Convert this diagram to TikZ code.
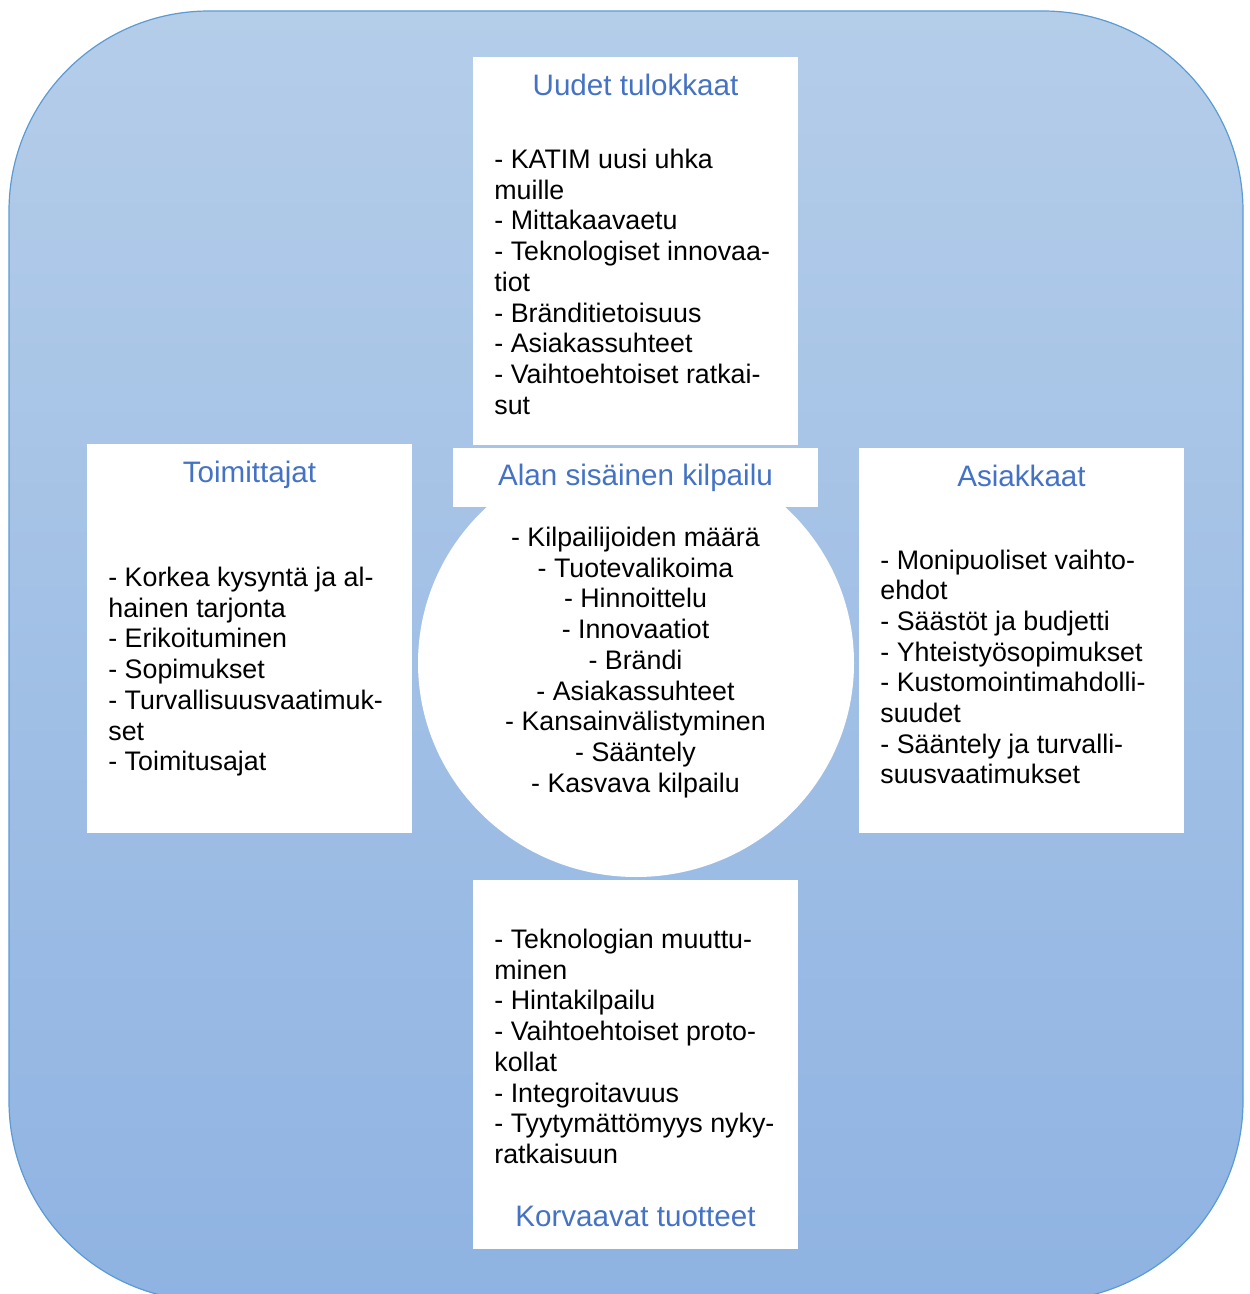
\documentclass[tikz,border=0pt]{standalone}
\usepackage{fontspec}
\setmainfont{Liberation Sans}
\usetikzlibrary{shapes.geometric}
\definecolor{bgtop}{RGB}{180,205,233}
\definecolor{bgbot}{RGB}{143,179,226}
\definecolor{edgeblue}{RGB}{91,155,213}
\definecolor{headblue}{RGB}{68,114,196}
% lines of a panel: name, x, first baseline, anchor, list of lines
\newcommand\panellines[5]{%
  \foreach \rowtext [count=\k] in {#5}{%
    \node[body, anchor=#4] (#1-\k) at (#2,{#3+30.7*(\k-1)}) {\rowtext};}}
\begin{document}
\begin{tikzpicture}[x=0.5pt,y=-0.5pt,
  panel/.style={rectangle, fill=white, draw=none, inner sep=0pt, outer sep=0pt},
  body/.style={font=\fontsize{13.4pt}{15.35pt}\selectfont, text=black, inner sep=0pt},
  head/.style={font=\fontsize{14.8pt}{17pt}\selectfont, text=headblue, inner sep=0pt}]
\useasboundingbox (0,0) rectangle (1249,1294);

% rounded background
\path[top color=bgtop, bottom color=bgbot, draw=edgeblue, line width=0.6pt,
      rounded corners=100pt] (9,11) rectangle (1243,1301);

% the five panels
\node[panel, minimum width=162.5pt, minimum height=194pt] (entrants) at (635.5,251) {};
\node[panel, minimum width=162.5pt, minimum height=194.5pt] (suppliers) at (249.5,638.5) {};
\node[panel, minimum width=162.5pt, minimum height=192.5pt] (buyers) at (1021.5,640.5) {};
\node[panel, minimum width=162.5pt, minimum height=184.5pt] (substitutes) at (635.5,1064.5) {};
\node[ellipse, fill=white, inner sep=0pt, minimum width=218pt, minimum height=214pt] (rivalry) at (636,663) {};
\node[panel, minimum width=182.5pt, minimum height=29.5pt] (rivalryhead) at (635.5,477.5) {};

% headings
\node[head, anchor=base] (entrants-title) at (635.5,96) {Uudet tulokkaat};
\node[head, anchor=base] (suppliers-title) at (249.5,482.5) {Toimittajat};
\node[head, anchor=base] (buyers-title) at (1021.5,486) {Asiakkaat};
\node[head, anchor=base] (rivalry-title) at (635.5,485.5) {Alan sisäinen kilpailu};
\node[head, anchor=base] (substitutes-title) at (635.5,1226.5) {Korvaavat tuotteet};

% panel contents
\panellines{entrants}{494}{168.5}{base west}{- KATIM uusi uhka, muille, - Mittakaavaetu, - Teknologiset innovaa-, tiot, - Bränditietoisuus, - Asiakassuhteet, - Vaihtoehtoiset ratkai-, sut}
\panellines{suppliers}{108}{586.5}{base west}{- Korkea kysyntä ja al-, hainen tarjonta, - Erikoituminen, - Sopimukset, - Turvallisuusvaatimuk-, set, - Toimitusajat}
\panellines{buyers}{880}{569}{base west}{- Monipuoliset vaihto-, ehdot, - Säästöt ja budjetti, - Yhteistyösopimukset, - Kustomointimahdolli-, suudet, - Sääntely ja turvalli-, suusvaatimukset}
\panellines{rivalry}{635.5}{546.5}{base}{- Kilpailijoiden määrä, - Tuotevalikoima, - Hinnoittelu, - Innovaatiot, - Brändi, - Asiakassuhteet, - Kansainvälistyminen, - Sääntely, - Kasvava kilpailu}
\panellines{substitutes}{494}{948.5}{base west}{- Teknologian muuttu-, minen, - Hintakilpailu, - Vaihtoehtoiset proto-, kollat, - Integroitavuus, - Tyytymättömyys nyky-, ratkaisuun}
\end{tikzpicture}
\end{document}
